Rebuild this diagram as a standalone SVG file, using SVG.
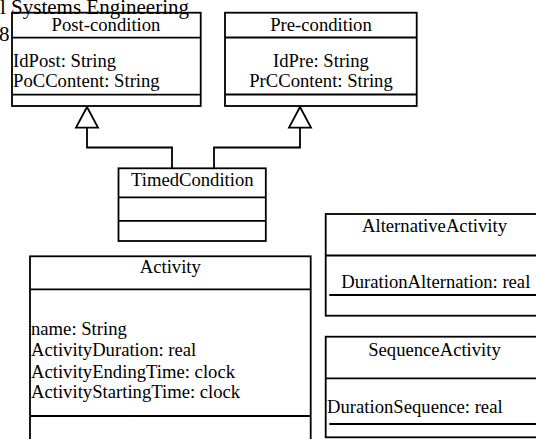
<svg xmlns="http://www.w3.org/2000/svg" width="536" height="439" viewBox="0 0 536 439">
<style>
text{font-family:"Liberation Serif","Times New Roman",serif;font-size:18.67px;fill:#000}
.c{text-anchor:middle}
.box{fill:#fff;stroke:#000;stroke-width:1.8}
.ln{stroke:#000;stroke-width:1.8;fill:none}
.big{font-size:21px}
</style>
<rect width="536" height="439" fill="#fff"/>
<g id="connectors">
<polyline class="ln" points="87,127.7 87,147.5 172,147.5 172,168.3"/>
<polyline class="ln" points="300,127.7 300,147.5 214,147.5 214,168.3"/>
<polygon class="ln" points="87,107 76,127.7 98,127.7" fill="#fff"/>
<polygon class="ln" points="300,107 289,127.7 311,127.7" fill="#fff"/>
</g>
<g id="post-condition">
<rect class="box" x="12" y="12.7" width="188.7" height="93.3"/>
<line class="ln" x1="12" y1="37.7" x2="200.7" y2="37.7"/>
<line class="ln" x1="12" y1="94.7" x2="200.7" y2="94.7"/>
<text class="c" x="106" y="31">Post-condition</text>
<text x="13" y="66.7">IdPost: String</text>
<text x="13" y="87.3">PoCContent: String</text>
</g>
<g id="pre-condition">
<rect class="box" x="225" y="12.7" width="191.7" height="93.3"/>
<line class="ln" x1="225" y1="37.5" x2="416.7" y2="37.5"/>
<line class="ln" x1="225" y1="94.5" x2="416.7" y2="94.5"/>
<text class="c" x="321" y="31">Pre-condition</text>
<text class="c" x="321" y="66.7">IdPre: String</text>
<text class="c" x="321" y="87.3">PrCContent: String</text>
</g>
<g id="timedcondition">
<rect class="box" x="118.5" y="168.3" width="147.3" height="72.7"/>
<line class="ln" x1="118.5" y1="197.3" x2="265.8" y2="197.3"/>
<line class="ln" x1="118.5" y1="220.8" x2="265.8" y2="220.8"/>
<text class="c" x="192.3" y="186">TimedCondition</text>
</g>
<g id="activity">
<rect class="box" x="30" y="256.3" width="280.7" height="190"/>
<line class="ln" x1="30" y1="289.3" x2="310.7" y2="289.3"/>
<line class="ln" x1="30" y1="416" x2="310.7" y2="416"/>
<text class="c" x="170.3" y="273">Activity</text>
<text x="31" y="335">name: String</text>
<text x="31" y="356">ActivityDuration: real</text>
<text x="31" y="377.5">ActivityEndingTime: clock</text>
<text x="31" y="398.3">ActivityStartingTime: clock</text>
</g>
<g id="alternativeactivity">
<rect class="box" x="325.7" y="214" width="219" height="101.7"/>
<line class="ln" x1="325.7" y1="255.5" x2="544.7" y2="255.5"/>
<line class="ln" x1="329.3" y1="295" x2="544.7" y2="295"/>
<text class="c" x="434.5" y="231.7">AlternativeActivity</text>
<text class="c" x="435.8" y="288.3">DurationAlternation: real</text>
</g>
<g id="sequenceactivity">
<rect class="box" x="325.7" y="336.7" width="219" height="100.6"/>
<line class="ln" x1="325.7" y1="378.3" x2="544.7" y2="378.3"/>
<line class="ln" x1="329.3" y1="424" x2="544.7" y2="424"/>
<text class="c" x="434.5" y="356">SequenceActivity</text>
<text x="327" y="412.7">DurationSequence: real</text>
</g>
<text class="big" x="0" y="13.5">l Systems Engineering</text>
<text class="big" x="-1" y="41">8</text>
</svg>
